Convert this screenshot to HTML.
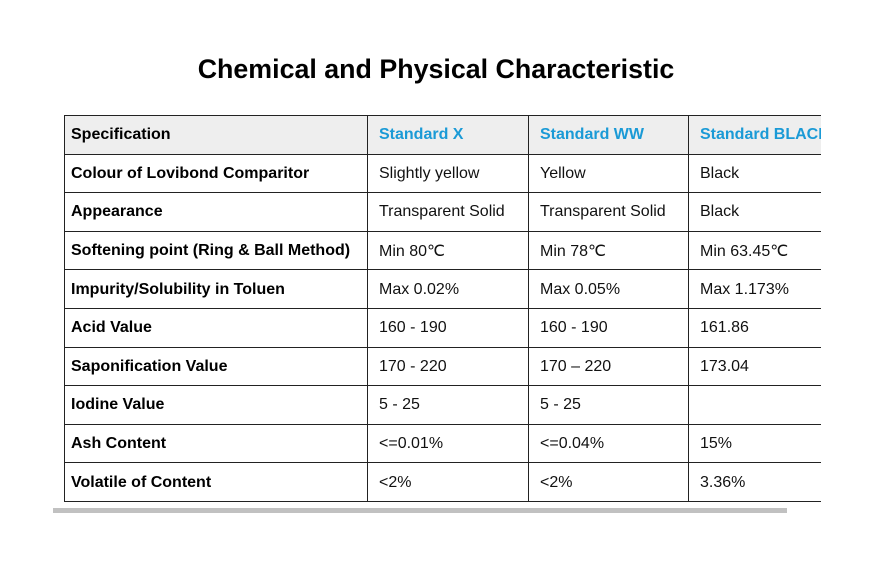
<!DOCTYPE html>
<html><head><style>
body{margin:0;width:894px;height:586px;background:#fff;font-family:"Liberation Sans",sans-serif;position:relative;overflow:hidden}
h1{position:absolute;top:54px;left:0;width:872px;text-align:center;margin:0;font-size:26.8px;font-weight:bold;color:#000}
.wrap{position:absolute;left:64px;top:115px;width:757px;height:392px;overflow:hidden}
table{border-collapse:collapse;table-layout:fixed;width:850px}
td{border:1px solid #222;height:38.6px;padding:1px 0 0 11px;font-size:16px;color:#111;white-space:nowrap;overflow:hidden;box-sizing:border-box}
td:first-child{font-weight:bold;color:#000;padding-left:6px}
tr.h td{background:#eeeeee;font-weight:bold}
tr.h td.b{color:#1a9ad6}
.bar{position:absolute;left:53px;top:508px;width:734px;height:5px;background:#c1c1c1}
</style></head><body>
<h1>Chemical and Physical Characteristic</h1>
<div class="wrap"><table>
<colgroup><col style="width:303px"><col style="width:161px"><col style="width:160px"><col style="width:226px"></colgroup>
<tr class="h"><td>Specification</td><td class="b">Standard X</td><td class="b">Standard WW</td><td class="b">Standard BLACK</td></tr>
<tr><td>Colour of Lovibond Comparitor</td><td>Slightly yellow</td><td>Yellow</td><td>Black</td></tr>
<tr><td>Appearance</td><td>Transparent Solid</td><td>Transparent Solid</td><td>Black</td></tr>
<tr><td>Softening point (Ring &amp; Ball Method)</td><td>Min 80℃</td><td>Min 78℃</td><td>Min 63.45℃</td></tr>
<tr><td>Impurity/Solubility in Toluen</td><td>Max 0.02%</td><td>Max 0.05%</td><td>Max 1.173%</td></tr>
<tr><td>Acid Value</td><td>160 - 190</td><td>160 - 190</td><td>161.86</td></tr>
<tr><td>Saponification Value</td><td>170 - 220</td><td>170 – 220</td><td>173.04</td></tr>
<tr><td>Iodine Value</td><td>5 - 25</td><td>5 - 25</td><td></td></tr>
<tr><td>Ash Content</td><td>&lt;=0.01%</td><td>&lt;=0.04%</td><td>15%</td></tr>
<tr><td>Volatile of Content</td><td>&lt;2%</td><td>&lt;2%</td><td>3.36%</td></tr>
</table></div>
<div class="bar"></div>
</body></html>
